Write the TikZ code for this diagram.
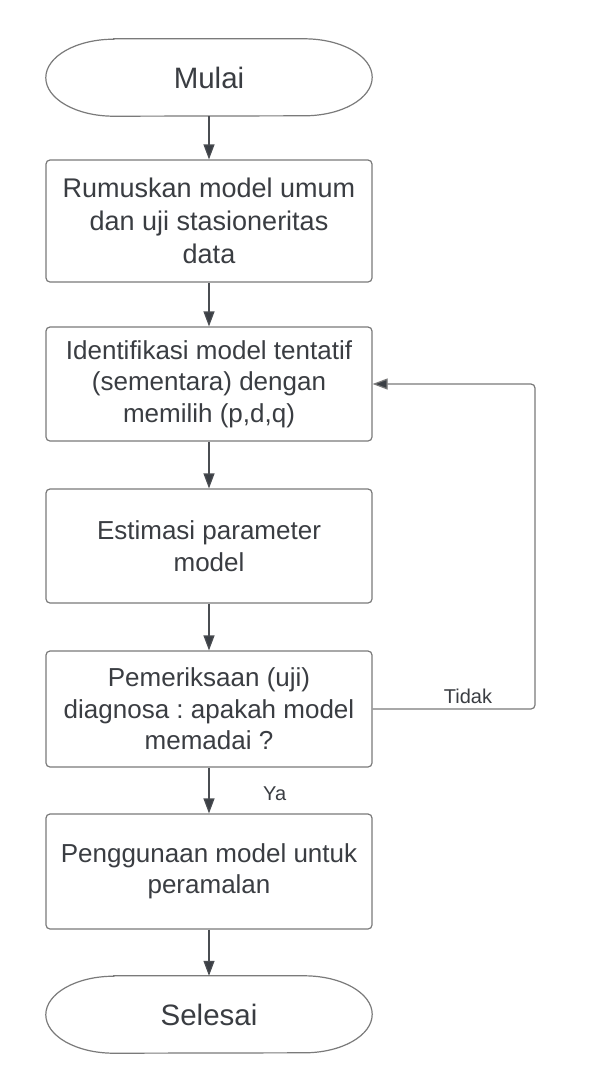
\documentclass[tikz,border=0pt]{standalone}
\usepackage{fontspec}
\setmainfont{Liberation Sans}
\usetikzlibrary{arrows.meta}
\frenchspacing
\definecolor{txt}{HTML}{3A3D42}
\definecolor{edge}{HTML}{7A7A7A}
\definecolor{arrc}{HTML}{4A4D52}
\definecolor{headc}{HTML}{3B3F45}
\tikzset{
  boxnode/.style={draw=edge, line width=1.2pt, rounded corners=4pt, minimum width=326pt,
    inner sep=0pt, align=center, text=txt, font=\fontsize{26}{31.5}\selectfont},
  termnode/.style={minimum width=326pt, minimum height=77pt, inner sep=0pt,
    text=txt, font=\fontsize{29.5}{34}\selectfont},
  termline/.style={draw=edge, line width=1.2pt},
  arr/.style={draw=arrc, line width=1.2pt, -{Triangle[length=15pt,width=11pt,fill=headc]}},
  lbl/.style={text=txt, font=\fontsize{20}{24}\selectfont, inner sep=0pt}
}
\begin{document}
\begin{tikzpicture}[x=1pt,y=-1pt]
\useasboundingbox[fill=white] (0,0) rectangle (607,1088);
% terminals
\node[termnode] (start) at (209,77.5) {Mulai};
\draw[termline] ([xshift=68pt]start.north west) -- ([xshift=-68pt]start.north east)
  arc[start angle=90,end angle=-90,x radius=68pt,y radius=38.5pt]
  -- ([xshift=68pt]start.south west)
  arc[start angle=270,end angle=90,x radius=68pt,y radius=38.5pt] -- cycle;
\node[termnode] (stop) at (209,1014.5) {Selesai};
\draw[termline] ([xshift=68pt]stop.north west) -- ([xshift=-68pt]stop.north east)
  arc[start angle=90,end angle=-90,x radius=68pt,y radius=38.5pt]
  -- ([xshift=68pt]stop.south west)
  arc[start angle=270,end angle=90,x radius=68pt,y radius=38.5pt] -- cycle;
% process boxes
\node[boxnode, minimum height=122pt, font=\fontsize{27}{33}\selectfont] (b1) at (209,221) {Rumuskan model umum\\dan uji stasioneritas\\data};
\node[boxnode, minimum height=114pt] (b2) at (209,384) {Identifikasi model tentatif\\(sementara) dengan\\memilih (p,d,q)};
\node[boxnode, minimum height=114pt] (b3) at (209,546) {Estimasi parameter\\model};
\node[boxnode, minimum height=116pt] (b4) at (209,709) {Pemeriksaan (uji)\\diagnosa : apakah model\\memadai ?};
\node[boxnode, minimum height=115pt] (b5) at (209,871.5) {Penggunaan model untuk\\peramalan};
% connectors
\draw[arr] (start) -- (b1);
\draw[arr] (b1) -- (b2);
\draw[arr] (b2) -- (b3);
\draw[arr] (b3) -- (b4);
\draw[arr] (b4) -- (b5);
\draw[arr] (b5) -- (stop);
\coordinate (c1) at (535,709);
\coordinate (c2) at (535,384);
\draw[arr, draw=edge, rounded corners=4pt] (b4.east) -- (c1) -- (c2) -- (b2.east);
% labels
\node[lbl, anchor=base] (tidak) at (468,703) {Tidak};
\node[lbl, anchor=base west] (ya) at (263,800) {Ya};
\end{tikzpicture}
\end{document}
